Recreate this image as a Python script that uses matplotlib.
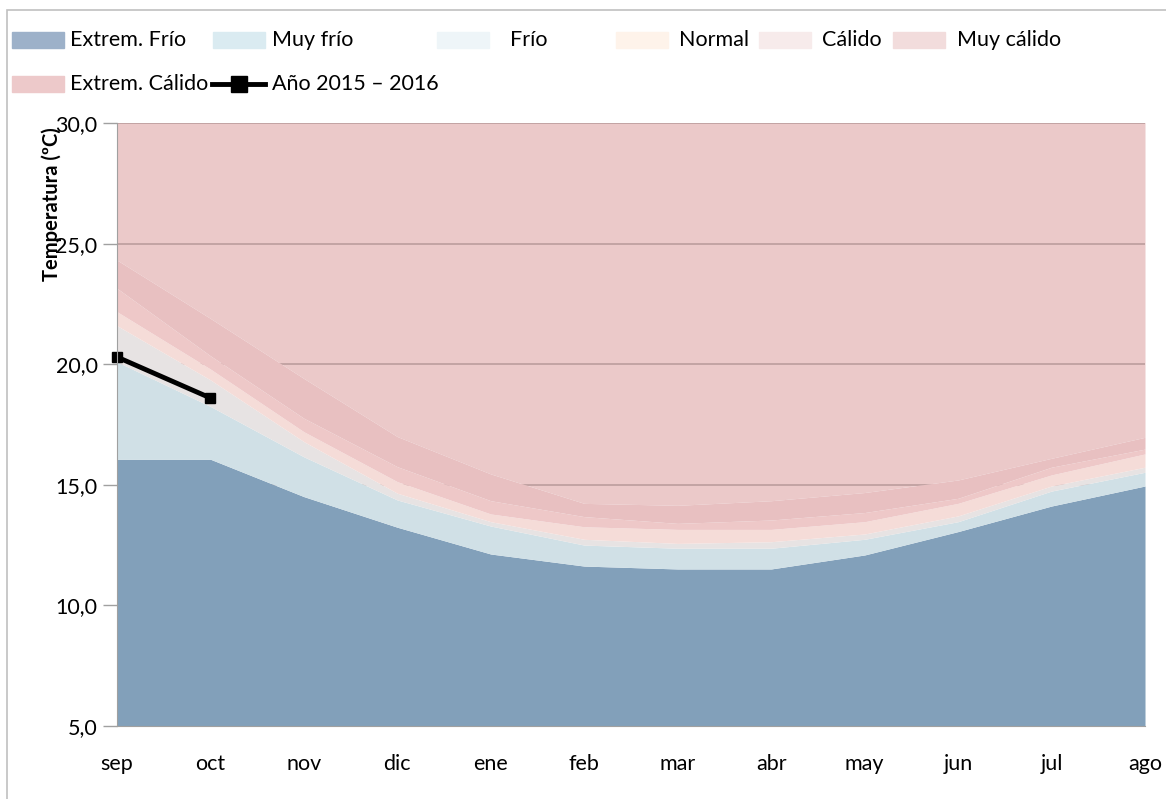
import numpy as np
import matplotlib
matplotlib.use("Agg")
import matplotlib.pyplot as plt
from matplotlib.patches import Rectangle
from matplotlib.lines import Line2D

plt.rcParams['font.family'] = ['Lato', 'DejaVu Sans']

meses = ['sep', 'oct', 'nov', 'dic', 'ene', 'feb', 'mar', 'abr', 'may', 'jun', 'jul', 'ago']

# upper limit of each class (ºC)
lim_extrem_frio = [16.06, 16.06, 14.51, 13.24, 12.13, 11.63, 11.51, 11.51, 12.09, 13.06, 14.12, 14.95]
lim_muy_frio    = [20.10, 18.25, 16.16, 14.37, 13.29, 12.50, 12.37, 12.37, 12.74, 13.47, 14.74, 15.52]
lim_frio        = [21.60, 19.35, 16.79, 14.65, 13.47, 12.74, 12.57, 12.64, 12.96, 13.71, 14.95, 15.73]
lim_normal      = [22.18, 19.80, 17.20, 15.13, 13.79, 13.26, 13.15, 13.15, 13.47, 14.23, 15.41, 16.28]
lim_calido      = [23.15, 20.35, 17.76, 15.75, 14.34, 13.68, 13.40, 13.54, 13.85, 14.44, 15.73, 16.48]
lim_muy_calido  = [24.32, 21.90, 19.41, 17.00, 15.45, 14.23, 14.15, 14.34, 14.68, 15.20, 16.10, 16.97]

anio_2015_16 = [20.3, 18.6]

etiquetas = ['Extrem. Frío', 'Muy frío', 'Frío', 'Normal', 'Cálido', 'Muy cálido', 'Extrem. Cálido']
col_area = ['#82A0BA', '#D0E0E6', '#E7E3E3', '#F5DCD8', '#EEC8C8', '#E8C0C1', '#EBC9C9']
col_leyenda = ['#9DB1C9', '#DAEBF1', '#EEF5F8', '#FEF3EA', '#F7EBEB', '#F2DCDC', '#EDC9CA']

fig = plt.figure(figsize=(11.66, 7.99), dpi=100)
ax = fig.add_axes([0.1003, 0.0914, 0.8817, 0.7546])

x = np.arange(len(meses))
limites = [np.full(len(meses), 0.0), lim_extrem_frio, lim_muy_frio, lim_frio,
           lim_normal, lim_calido, lim_muy_calido, np.full(len(meses), 40.0)]
for i in range(7):
    z = 1 if i == 6 else 3
    ax.fill_between(x, limites[i], limites[i + 1], color=col_area[i], lw=0, zorder=z)

for v in [10, 15, 20, 25, 30]:
    ax.axhline(v, color='#b89a9a', lw=1.1, zorder=2)

ax.plot(x[:len(anio_2015_16)], anio_2015_16, color='black', lw=3.5,
        marker='s', ms=7, zorder=5, clip_on=False)

ax.set_xlim(0, 11)
ax.set_ylim(5, 30)
yt = [5, 10, 15, 20, 25, 30]
ax.set_yticks(yt)
ax.set_yticklabels([('%.1f' % v).replace('.', ',') for v in yt])
ax.set_xticks(x)
ax.set_xticklabels(meses)
ax.tick_params(axis='y', length=10, width=1, color='#a0a0a0', labelsize=15.5, pad=4)
ax.tick_params(axis='x', length=0, labelsize=15.5, pad=20)
for s in ['top', 'right']:
    ax.spines[s].set_visible(False)
for s in ['left', 'bottom']:
    ax.spines[s].set_color('#a0a0a0')
    ax.spines[s].set_zorder(6)

fig.text(0.044, 0.745, 'Temperatura (ºC)', rotation=90, fontsize=14.5,
         fontweight='bold', ha='center', va='center')

# legend drawn by hand to follow the original layout
W, H = 1166.0, 799.0
pos_leyenda = [(12, 40, 70), (213, 40, 272), (437, 40, 510), (616, 40, 679),
               (759, 40, 822), (893, 40, 957), (12, 84, 70)]
for i, (px, py, tx) in enumerate(pos_leyenda):
    fig.patches.append(Rectangle((px / W, 1 - (py + 8) / H), 52 / W, 16 / H,
                                 transform=fig.transFigure, color=col_leyenda[i]))
    fig.text(tx / W, 1 - py / H, etiquetas[i], fontsize=15.5, va='center', ha='left')
fig.lines.append(Line2D([212 / W, 265 / W], [1 - 84 / H, 1 - 84 / H], transform=fig.transFigure,
                        color='black', lw=3.5))
fig.lines.append(Line2D([238.5 / W], [1 - 84 / H], transform=fig.transFigure,
                        color='black', marker='s', ms=12, lw=0))
fig.text(272 / W, 1 - 84 / H, 'Año 2015 – 2016', fontsize=15.5, va='center', ha='left')

fig.patches.append(Rectangle((7 / W, -10 / H), 1170 / W, 799 / H, transform=fig.transFigure,
                             fill=False, edgecolor='#c0c0c0', lw=1.2))

fig.savefig('out.png', dpi=100)
